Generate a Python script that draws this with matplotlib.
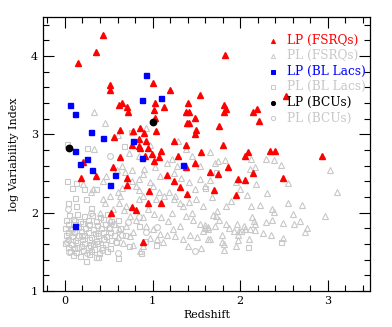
import numpy as np
import matplotlib
matplotlib.use("Agg")
import matplotlib.pyplot as plt
from matplotlib.ticker import MultipleLocator

# LP (log-parabola) sources: (redshift, log variability index)
lp_fsrq = [
    (0.43, 4.27), (0.35, 4.05), (0.15, 3.91), (0.52, 3.63), (0.51, 3.57), (1.00, 3.66),
    (1.20, 3.57), (1.54, 3.51), (0.65, 3.40), (0.62, 3.38), (0.71, 3.35), (0.72, 3.29),
    (1.03, 3.40), (1.13, 3.35), (1.02, 3.31), (1.41, 3.40), (1.38, 3.29), (1.42, 3.29),
    (1.48, 3.21), (1.03, 3.21), (1.39, 3.15), (1.42, 3.14), (1.49, 3.06), (1.48, 3.01),
    (0.63, 3.06), (0.56, 2.97), (0.86, 3.08), (0.78, 3.04), (0.90, 3.02), (1.04, 3.04),
    (0.85, 2.94), (0.92, 2.92), (0.77, 2.87), (0.84, 2.85), (0.86, 2.83), (0.95, 2.83),
    (1.25, 2.91), (1.38, 2.87), (1.10, 2.79), (0.99, 2.75), (1.55, 2.78),
    (1.83, 4.02), (2.52, 3.49), (1.81, 3.38), (1.84, 3.33), (1.81, 3.29), (2.19, 3.32),
    (2.15, 3.29), (2.21, 3.17), (1.76, 3.11), (1.80, 2.87), (2.09, 2.77), (2.34, 2.79),
    (2.40, 2.79), (0.21, 2.65), (0.63, 2.71), (0.91, 2.73), (1.07, 2.71), (1.02, 2.66),
    (1.29, 2.72), (1.48, 2.63), (1.38, 2.58), (0.55, 2.58), (0.18, 2.45), (0.35, 2.47),
    (0.71, 2.45), (0.71, 2.35), (1.16, 2.48), (1.25, 2.40), (1.31, 2.33), (1.39, 2.24),
    (0.96, 2.28), (0.95, 2.13), (1.10, 2.12), (0.77, 2.07), (0.81, 2.03), (0.53, 2.00),
    (0.89, 1.63), (2.06, 2.72), (2.93, 2.72), (1.65, 2.52), (1.75, 2.50), (1.86, 2.58),
    (2.15, 2.51), (1.97, 2.43), (2.06, 2.42), (2.49, 2.44), (1.70, 2.29), (1.95, 2.23),
]
lp_bll = [
    (0.93, 3.76), (0.88, 3.44), (1.10, 3.47), (0.06, 3.37), (0.12, 3.26), (0.30, 3.03),
    (0.44, 2.95), (0.78, 2.91), (0.11, 2.79), (0.25, 2.69), (0.17, 2.62), (0.31, 2.55),
    (0.57, 2.48), (0.52, 2.35), (0.88, 2.70), (1.35, 2.61), (0.11, 1.83),
]
lp_bcu = [(1.00, 3.16), (0.05, 2.83)]

# PL (power-law) sources
pl_fsrq = [
    (0.33, 3.29), (0.46, 3.14), (0.60, 2.99), (0.93, 3.08), (0.97, 2.87), (0.33, 2.81),
    (1.29, 2.92), (1.38, 2.82), (0.73, 2.76), (0.85, 2.73), (1.17, 2.63), (1.22, 2.69),
    (1.28, 2.60), (1.45, 2.73), (1.54, 2.60), (0.65, 2.60), (0.68, 2.52), (0.59, 2.55),
    (0.77, 2.55), (0.90, 2.56), (1.03, 2.59), (1.66, 2.77), (1.75, 2.66), (1.71, 2.63),
    (1.83, 2.67), (2.12, 2.69), (2.17, 2.59), (2.11, 2.56), (2.29, 2.69), (2.39, 2.67),
    (2.46, 2.61), (3.03, 2.55), (1.66, 2.42), (1.95, 2.39), (2.18, 2.37), (2.55, 2.38),
    (3.10, 2.26), (2.08, 2.23), (2.55, 2.13), (1.84, 2.08), (2.12, 2.08), (2.23, 2.10),
    (2.36, 2.05), (2.38, 2.01), (2.60, 1.99), (2.97, 1.96), (1.69, 1.97), (1.73, 2.02),
    (1.72, 1.96), (1.76, 1.91), (1.84, 1.86), (2.13, 1.95), (2.16, 1.89), (2.17, 1.86),
    (2.29, 1.88), (2.36, 1.91), (2.49, 1.87), (2.61, 1.85), (2.68, 1.89), (2.76, 1.81),
    (2.74, 1.76), (1.60, 1.84), (1.63, 1.82), (1.63, 1.79), (1.71, 1.83), (1.87, 1.80),
    (1.96, 1.85), (1.93, 1.77), (1.99, 1.77), (2.04, 1.83), (2.05, 1.79), (2.11, 1.79),
    (2.17, 1.78), (2.26, 1.74), (2.35, 1.72), (2.49, 1.68), (1.79, 1.71), (1.98, 1.71),
    (2.10, 1.67), (1.98, 1.65), (1.63, 1.67), (1.66, 1.66), (1.79, 1.62), (1.82, 1.60),
    (1.82, 1.52), (0.21, 2.37), (0.32, 2.30), (0.30, 2.26), (0.44, 2.18), (0.51, 2.22),
    (0.46, 2.13), (0.60, 2.26), (0.65, 2.31), (0.63, 2.21), (0.62, 2.12), (0.70, 2.09),
    (0.67, 2.03), (0.81, 2.34), (0.85, 2.29), (0.89, 2.22), (0.84, 2.17), (0.74, 1.96),
    (0.81, 1.91), (0.89, 1.95), (1.01, 2.34), (1.07, 2.27), (1.13, 2.21), (1.04, 2.18),
    (1.19, 2.26), (1.26, 2.21), (1.24, 2.17), (1.31, 2.13), (1.35, 2.08), (1.42, 2.14),
    (1.50, 2.17), (1.57, 2.08), (1.38, 1.96), (1.46, 1.91), (1.54, 1.85), (1.60, 1.80),
    (1.31, 1.83), (1.23, 1.79), (1.16, 1.72), (1.26, 1.70), (1.35, 1.66), (1.43, 1.72),
    (1.51, 1.69), (1.57, 1.77), (0.93, 1.83), (1.00, 1.79), (1.08, 1.73), (0.97, 1.68),
    (1.05, 1.66), (0.89, 1.57), (0.86, 1.51), (0.51, 1.91), (0.57, 1.85), (0.62, 1.79),
    (0.70, 1.83), (0.78, 1.76), (0.74, 1.70), (0.60, 1.69), (0.66, 1.61), (0.78, 1.59),
    (1.33, 2.45), (1.42, 2.39), (1.54, 2.43), (1.60, 2.34), (1.48, 2.30), (1.25, 2.51),
    (1.08, 2.47), (0.85, 2.43), (0.97, 2.39), (0.89, 2.50), (0.76, 2.40), (0.47, 2.47),
    (0.43, 2.41), (1.10, 1.95), (1.18, 1.90), (1.22, 2.00), (1.45, 2.00), (1.12, 1.62),
    (1.40, 1.58), (0.95, 2.05), (1.02, 1.98), (0.55, 2.05), (0.40, 2.00), (1.68, 2.20),
    (1.90, 2.15), (2.00, 2.30), (2.30, 2.25), (2.70, 2.10), (1.55, 1.55), (1.95, 1.58),
]
pl_bll = [
    (0.02, 2.88), (0.25, 2.83), (0.67, 2.85), (0.75, 3.03), (0.02, 2.40), (0.08, 2.31),
    (0.13, 2.38), (0.11, 2.19), (0.24, 2.17), (0.03, 2.13), (0.13, 2.08), (0.22, 2.30),
    (0.36, 2.30), (0.30, 2.06), (0.85, 1.83), (0.91, 1.64), (1.04, 1.59), (0.61, 1.42),
    (0.73, 1.57), (0.38, 1.44), (0.24, 1.38), (0.87, 1.49), (2.01, 1.77), (2.09, 1.56),
    (2.46, 1.63), (1.72, 2.52), (1.60, 2.31),
    (0.05, 1.97), (0.14, 1.98), (0.22, 1.96), (0.31, 1.97), (0.40, 1.95), (0.48, 1.98),
    (0.01, 1.91), (0.09, 1.92), (0.17, 1.90), (0.26, 1.91), (0.35, 1.89), (0.44, 1.92),
    (0.53, 1.90), (0.60, 1.91), (0.04, 1.86), (0.12, 1.85), (0.20, 1.87), (0.28, 1.86),
    (0.37, 1.84), (0.46, 1.86), (0.55, 1.85), (0.00, 1.81), (0.07, 1.80), (0.15, 1.82),
    (0.23, 1.81), (0.32, 1.79), (0.41, 1.81), (0.50, 1.80), (0.63, 1.81), (0.03, 1.76),
    (0.10, 1.75), (0.18, 1.77), (0.26, 1.76), (0.34, 1.74), (0.43, 1.76), (0.52, 1.75),
    (0.01, 1.71), (0.08, 1.70), (0.15, 1.72), (0.22, 1.71), (0.30, 1.69), (0.38, 1.71),
    (0.47, 1.70), (0.56, 1.72), (0.68, 1.71), (0.04, 1.66), (0.11, 1.65), (0.19, 1.67),
    (0.27, 1.66), (0.35, 1.64), (0.44, 1.66), (0.53, 1.65), (0.00, 1.61), (0.07, 1.60),
    (0.14, 1.62), (0.22, 1.61), (0.29, 1.59), (0.37, 1.61), (0.46, 1.60), (0.58, 1.62),
    (0.03, 1.56), (0.10, 1.55), (0.18, 1.57), (0.26, 1.56), (0.33, 1.54), (0.42, 1.56),
    (0.51, 1.55), (0.06, 1.51), (0.13, 1.50), (0.21, 1.52), (0.30, 1.51), (0.39, 1.49),
    (0.48, 1.51), (0.09, 1.46), (0.17, 1.45), (0.28, 1.47), (0.36, 1.44),
]
pl_bcu = [
    (0.51, 2.73), (1.48, 1.51), (0.02, 1.62), (0.08, 1.78), (0.15, 1.55), (0.20, 1.70),
    (0.27, 1.84), (0.33, 1.60), (0.38, 1.74), (0.45, 1.66), (0.12, 1.90), (0.05, 1.50),
    (0.25, 1.48), (0.42, 1.52), (0.50, 1.80), (0.58, 1.63), (0.65, 1.72), (0.72, 1.88),
    (0.85, 1.95), (0.30, 2.00), (0.03, 2.05), (0.60, 1.48), (0.92, 1.76), (1.05, 1.82),
]

legend_labels = ["LP (FSRQs)", "PL (FSRQs)", "LP (BL Lacs)", "PL (BL Lacs)", "LP (BCUs)", "PL (BCUs)"]

gray = "#c8c8c8"

fig = plt.figure(figsize=(3.92, 3.27), dpi=100)
ax = fig.add_axes([0.1097, 0.110, 0.834, 0.838])

def xy(pts):
    a = np.array(pts)
    return a[:, 0], a[:, 1]

# grey PL populations first
x, y = xy(pl_bll)
ax.plot(x, y, "s", ms=3.6, mfc="none", mec=gray, mew=0.8)
x, y = xy(pl_bcu)
ax.plot(x, y, "o", ms=4.2, mfc="none", mec=gray, mew=0.8)
x, y = xy(pl_fsrq)
ax.plot(x, y, "^", ms=4.6, mfc="none", mec=gray, mew=0.8)

# coloured LP populations on top
x, y = xy(lp_fsrq)
ax.plot(x, y, "^", ms=4.2, color="red", mec="red")
x, y = xy(lp_bll)
ax.plot(x, y, "s", ms=3.6, color="blue")
x, y = xy(lp_bcu)
ax.plot(x, y, "o", ms=4.6, color="black")

# hand-placed legend
styles = [("^", "red", "red"), ("^", "none", gray), ("s", "blue", "blue"),
          ("s", "none", gray), ("o", "black", "black"), ("o", "none", gray)]
text_cols = ["red", gray, "blue", gray, "black", gray]
rows = [0.914, 0.858, 0.801, 0.745, 0.688, 0.630]
for lab, (m, fc, ec), tc, ry in zip(legend_labels, styles, text_cols, rows):
    ax.plot([0.703], [ry], m, ms=3.0, mfc=fc, mec=ec, mew=0.7, transform=ax.transAxes)
    ax.text(0.745, ry, lab, color=tc, fontsize=8.7, family="DejaVu Serif",
            va="center", ha="left", transform=ax.transAxes)

ax.set_xlim(-0.25, 3.48)
ax.set_ylim(1, 4.5)
ax.xaxis.set_major_locator(MultipleLocator(1))
ax.xaxis.set_minor_locator(MultipleLocator(0.2))
ax.yaxis.set_major_locator(MultipleLocator(1))
ax.yaxis.set_minor_locator(MultipleLocator(0.2))
ax.tick_params(which="both", direction="in", top=True, right=True, width=0.8,
               labelsize=8, labelfontfamily="DejaVu Serif")
ax.tick_params(which="major", length=8)
ax.tick_params(which="minor", length=4)
for s in ax.spines.values():
    s.set_linewidth(0.9)

ax.set_xlabel("Redshift", fontsize=8, family="DejaVu Serif", labelpad=3)
ax.set_ylabel("log Variability Index", fontsize=8, family="DejaVu Serif", labelpad=9)

fig.savefig("out.png", dpi=100)
